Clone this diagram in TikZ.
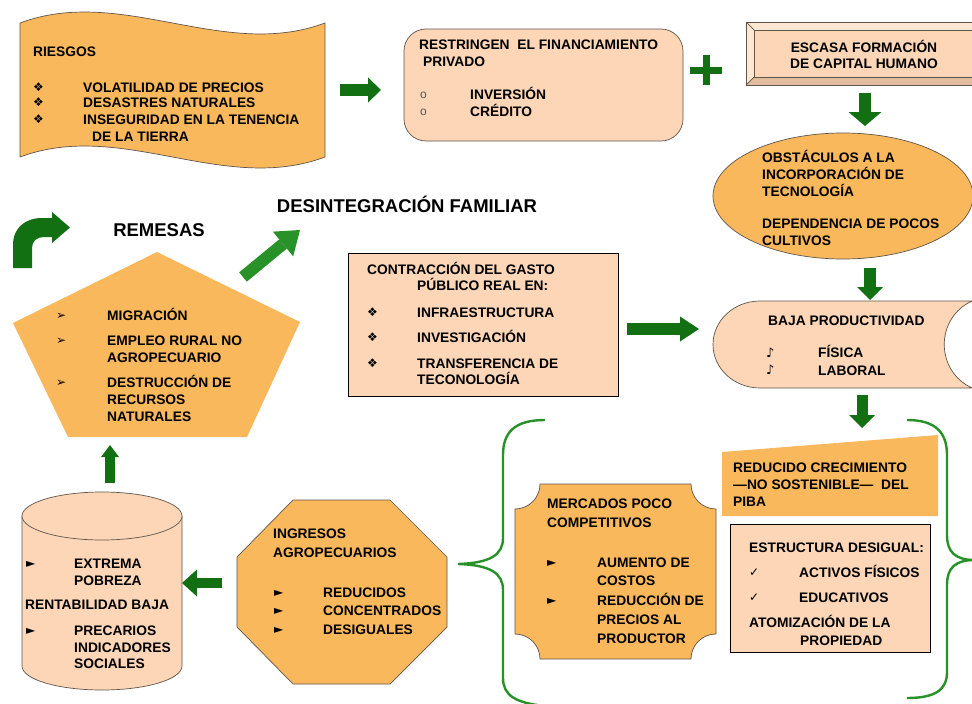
\documentclass[tikz,border=0pt]{standalone}
\usepackage{fontspec}
\setmainfont{Liberation Sans}
\newfontfamily\dejavu{DejaVu Sans}
\usetikzlibrary{arrows.meta}
\definecolor{orangef}{RGB}{250,184,92}
\definecolor{peach}{RGB}{252,214,182}
\definecolor{peachL}{RGB}{253,230,210}
\definecolor{peachD}{RGB}{225,188,158}
\definecolor{dgreen}{RGB}{18,112,18}
\definecolor{bgreen}{RGB}{40,145,40}
\definecolor{edgec}{RGB}{95,85,75}
\definecolor{obul}{RGB}{85,85,85}
\tikzset{
  txt/.style={anchor=base west, inner sep=0pt, font=\bfseries\fontsize{13.8}{16}\selectfont},
  ctxt/.style={anchor=base, inner sep=0pt, font=\bfseries\fontsize{13.8}{16}\selectfont},
  bigtxt/.style={anchor=base, inner sep=0pt, font=\bfseries\fontsize{18.5}{20}\selectfont},
  bul/.style={anchor=base west, inner sep=0pt, font=\dejavu\fontsize{#1}{#1}\selectfont},
  barrow/.style n args={3}{draw=dgreen, line width=#1, -{Triangle[width=#2, length=#3, line width=0pt]}},
  shapeline/.style={draw=edgec, line width=0.7pt},
}
\newcommand\T[4]{\node[txt] (#1) at (#2,#3+5) {#4};}
\newcommand\B[5]{\node[bul=#4] (#1) at (#2,#3+4.2) {#5};}
\begin{document}
\begin{tikzpicture}[x=1pt,y=-1pt]
\useasboundingbox (0,0) rectangle (972,704);
\fill[white] (0,0) rectangle (972,704);

% ---------- shapes ----------
% RIESGOS wave
\path[fill=orangef, shapeline] (20,23) .. controls (121.7,-15) and (223.3,61) .. (325,23)
  -- (325,157) .. controls (223.3,195) and (121.7,119) .. (20,157) -- cycle;
% RESTRINGEN
\path[fill=peach, shapeline, rounded corners=22pt] (404,29) rectangle (683,141);
% ESCASA bevel box
\fill[peach] (746,22) rectangle (982,85);
\fill[peachL] (746,22) -- (982,22) -- (974,30) -- (754,30) -- cycle;
\fill[peachL] (746,22) -- (754,30) -- (754,77) -- (746,85) -- cycle;
\fill[peachD] (746,85) -- (754,77) -- (974,77) -- (982,85) -- cycle;
\draw[shapeline] (746,22) rectangle (982,85);
\draw[shapeline] (754,30) rectangle (974,77);
\draw[shapeline] (746,22) -- (754,30) (746,85) -- (754,77);
% Ellipse
\path[fill=orangef, shapeline] (843,196) ellipse [x radius=130pt, y radius=63pt];
% BAJA PRODUCTIVIDAD
\path[fill=peach, shapeline] (760,301) -- (972,301) .. controls (935,318) and (935,371) .. (972,388)
  -- (760,388) .. controls (734,388) and (713,368.5) .. (713,344.5)
  .. controls (713,320.5) and (734,301) .. (760,301) -- cycle;
% CONTRACCION
\path[fill=peach, draw=black, line width=0.9pt] (348,253) rectangle (618,396);
% Pentagon
\fill[orangef] (157,252) -- (300,322) -- (247,437) -- (68,437) -- (13,323) -- cycle;
% Cylinder
\path[fill=peach, shapeline] (22,516) -- (22,666) .. controls (22,679.3) and (57.8,690) .. (102,690)
  .. controls (146.2,690) and (182,679.3) .. (182,666) -- (182,516) -- cycle;
\path[fill=peach, shapeline] (102,516) ellipse [x radius=80pt, y radius=24pt];
% Octagon
\path[fill=orangef, shapeline] (293,500) -- (390,500) -- (447,557) -- (447,627) -- (390,684)
  -- (293,684) -- (237,627) -- (237,557) -- cycle;
% MERCADOS plaque
\path[fill=orangef, shapeline] (540,484) -- (691,484) .. controls (691,497.8) and (702.2,509) .. (716,509)
  -- (716,634) .. controls (702.2,634) and (691,645.2) .. (691,659)
  -- (540,659) .. controls (540,645.2) and (528.8,634) .. (515,634)
  -- (515,509) .. controls (528.8,509) and (540,497.8) .. (540,484) -- cycle;
% REDUCIDO panel
\fill[orangef] (722,452) -- (938,435) -- (938,516) -- (722,516) -- cycle;
% ESTRUCTURA
\path[fill=peach, draw=black, line width=0.9pt] (730,524) rectangle (930,652);

% braces
\draw[bgreen, line width=2.4pt] (545,420) .. controls (515,420) and (503,432) .. (503,455)
  -- (503,538) .. controls (503,555) and (490,563) .. (458,564)
  .. controls (490,565) and (503,573) .. (503,590)
  -- (503,678) .. controls (503,695) and (515,703) .. (545,706);
\draw[bgreen, line width=2.4pt] (907,420) .. controls (935,420) and (947,432) .. (947,455)
  -- (947,535) .. controls (947,552) and (955,560) .. (975,560)
  .. controls (955,560) and (947,568) .. (947,585)
  -- (947,672) .. controls (947,690) and (935,698) .. (907,698);

% ---------- arrows ----------
\coordinate (a1s) at (340,90);  \coordinate (a1e) at (381,90);
\draw[barrow={12pt}{25pt}{13pt}] (a1s) -- (a1e);
\coordinate (a2s) at (865,93);  \coordinate (a2e) at (865,126);
\draw[barrow={12pt}{33pt}{14pt}] (a2s) -- (a2e);
\coordinate (a3s) at (870,268); \coordinate (a3e) at (870,300);
\draw[barrow={12pt}{26pt}{13pt}] (a3s) -- (a3e);
\coordinate (a4s) at (862,395); \coordinate (a4e) at (862,428);
\draw[barrow={11pt}{26pt}{13pt}] (a4s) -- (a4e);
\coordinate (a5s) at (627,329); \coordinate (a5e) at (699,329);
\draw[barrow={12pt}{25pt}{19pt}] (a5s) -- (a5e);
\coordinate (a6s) at (110,483); \coordinate (a6e) at (110,445);
\draw[barrow={10pt}{18pt}{12pt}] (a6s) -- (a6e);
\coordinate (a7s) at (222,583); \coordinate (a7e) at (182,583);
\draw[barrow={10pt}{27pt}{15pt}] (a7s) -- (a7e);
\coordinate (a8s) at (243,277); \coordinate (a8e) at (300,230);
\draw[draw=bgreen, line width=12pt, -{Triangle[width=32pt, length=22pt, line width=0pt]}] (a8s) -- (a8e);
% bent arrow
\fill[dgreen] (13,268) -- (13,245) .. controls (13,228) and (25,218) .. (42,218) -- (52,218)
  -- (52,212) -- (70,227.5) -- (52,243) -- (52,237) -- (44,237)
  .. controls (37,237) and (32,241) .. (32,248) -- (32,268) -- cycle;
% plus
\draw[dgreen, line width=7pt] (690,70) -- (722,70) (706,55) -- (706,85);

% ---------- texts ----------
\T{r0}{33}{51}{RIESGOS}
\B{rb1}{33}{87}{12}{❖}\T{r1}{83}{87}{VOLATILIDAD DE PRECIOS}
\B{rb2}{33}{102}{12}{❖}\T{r2}{83}{102}{DESASTRES NATURALES}
\B{rb3}{33}{119}{12}{❖}\T{r3}{83}{119}{INSEGURIDAD EN LA TENENCIA}
\T{r4}{92}{136}{DE LA TIERRA}

\T{f0}{419}{44}{RESTRINGEN\ \ EL FINANCIAMIENTO}
\T{f1}{423}{61}{PRIVADO}
\node[anchor=base west, inner sep=0pt, text=obul, font=\fontsize{12}{12}\selectfont] (fb1) at (420,98) {o};
\T{f2}{470}{94}{INVERSIÓN}
\node[anchor=base west, inner sep=0pt, text=obul, font=\fontsize{12}{12}\selectfont] (fb2) at (420,115) {o};
\T{f3}{470}{111}{CRÉDITO}

\node[ctxt] (e1) at (864,52) {ESCASA FORMACIÓN};
\node[ctxt] (e2) at (864,68) {DE CAPITAL HUMANO};

\T{o1}{762}{157}{OBSTÁCULOS A LA}
\T{o2}{762}{174}{INCORPORACIÓN DE}
\T{o3}{762}{191}{TECNOLOGÍA}
\T{o4}{762}{223}{DEPENDENCIA DE POCOS}
\T{o5}{762}{240}{CULTIVOS}

\T{b0}{768}{320}{BAJA PRODUCTIVIDAD}
\B{bb1}{766}{353}{13}{♪}\T{b1}{818}{352}{FÍSICA}
\B{bb2}{766}{370}{13}{♪}\T{b2}{818}{370}{LABORAL}

\T{c0}{367}{269}{CONTRACCIÓN DEL GASTO}
\T{c1}{417}{285}{PÚBLICO REAL EN:}
\B{cb1}{367}{312}{12}{❖}\T{c2}{417}{312}{INFRAESTRUCTURA}
\B{cb2}{367}{337}{12}{❖}\T{c3}{417}{337}{INVESTIGACIÓN}
\B{cb3}{367}{363}{12}{❖}\T{c4}{417}{363}{TRANSFERENCIA DE}
\T{c5}{417}{379}{TECONOLOGÍA}

\node[bigtxt] (des) at (407,212) {DESINTEGRACIÓN FAMILIAR};
\node[bigtxt] (rem) at (159,236) {REMESAS};

\B{pb1}{56}{315}{12}{➢}\T{p1}{107}{315}{MIGRACIÓN}
\B{pb2}{56}{340}{12}{➢}\T{p2}{107}{340}{EMPLEO RURAL NO}
\T{p3}{107}{357}{AGROPECUARIO}
\B{pb3}{56}{382}{12}{➢}\T{p4}{107}{382}{DESTRUCCIÓN DE}
\T{p5}{107}{399}{RECURSOS}
\T{p6}{107}{416}{NATURALES}

\B{yb1}{26}{563}{12}{►}\T{y1}{74}{563}{EXTREMA}
\T{y2}{74}{580}{POBREZA}
\T{y3}{25}{604}{RENTABILIDAD BAJA}
\B{yb2}{26}{630}{12}{►}\T{y4}{74}{630}{PRECARIOS}
\T{y5}{74}{647}{INDICADORES}
\T{y6}{74}{663}{SOCIALES}

\T{g1}{273}{533}{INGRESOS}
\T{g2}{273}{552}{AGROPECUARIOS}
\B{gb1}{274}{592}{12}{►}\T{g3}{323}{592}{REDUCIDOS}
\B{gb2}{274}{610}{12}{►}\T{g4}{323}{610}{CONCENTRADOS}
\B{gb3}{274}{629}{12}{►}\T{g5}{323}{629}{DESIGUALES}

\T{m1}{547}{503}{MERCADOS POCO}
\T{m2}{547}{522}{COMPETITIVOS}
\B{mb1}{547}{562}{12}{►}\T{m3}{597}{562}{AUMENTO DE}
\T{m4}{597}{580}{COSTOS}
\B{mb2}{547}{600}{12}{►}\T{m5}{597}{600}{REDUCCIÓN DE}
\T{m6}{597}{619}{PRECIOS AL}
\T{m7}{597}{638}{PRODUCTOR}

\T{d1}{733}{467}{REDUCIDO CRECIMIENTO}
\T{d2}{733}{484}{—NO SOSTENIBLE—\ \ DEL}
\T{d3}{733}{501}{PIBA}

\T{s1}{749}{547}{ESTRUCTURA DESIGUAL:}
\B{sb1}{749}{572}{12}{✓}\T{s2}{799}{572}{ACTIVOS FÍSICOS}
\B{sb2}{749}{597}{12}{✓}\T{s3}{799}{597}{EDUCATIVOS}
\T{s4}{749}{622}{ATOMIZACIÓN DE LA}
\T{s5}{800}{640}{PROPIEDAD}
\end{tikzpicture}
\end{document}
